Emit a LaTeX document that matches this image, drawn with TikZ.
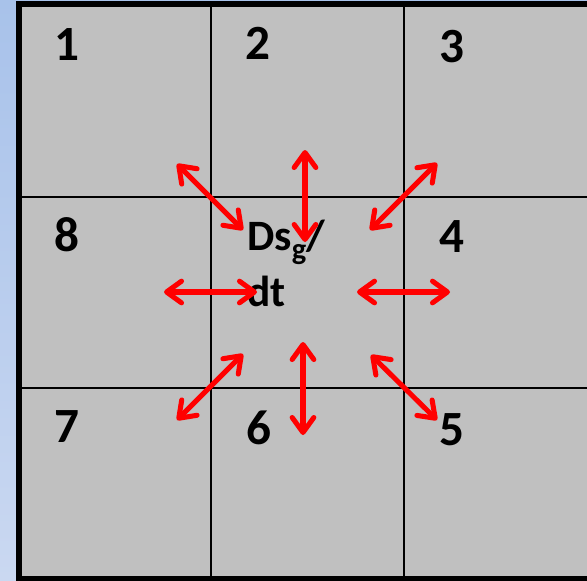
\documentclass[tikz,border=0pt]{standalone}
\usepackage{fontspec}
\setmainfont{Carlito}
\usetikzlibrary{arrows.meta}
\definecolor{slideblue}{RGB}{168,194,234}
\definecolor{slidepale}{RGB}{202,216,241}
\definecolor{cellgray}{RGB}{192,192,192}
\definecolor{fluxred}{RGB}{255,0,0}

\begin{document}
\begin{tikzpicture}[x=0.03cm, y=-0.03cm,
    celllabel/.style={font=\fontsize{42}{48}\selectfont\bfseries, inner sep=0pt},
    ratelabel/.style={font=\fontsize{37}{44}\selectfont\bfseries, inner sep=0pt, anchor=base west},
    flux/.style={draw=fluxred, line width=4.3pt, line cap=round,
                 {Straight Barb[round, length=4.5mm, width=6.5mm]}-{Straight Barb[round, length=4.5mm, width=6.5mm]}}
  ]
    \useasboundingbox (0,0) rectangle (587,580);
    \clip (0,0) rectangle (587,580);

    % Slide background
    \shade[top color=slideblue, bottom color=slidepale] (0,0) rectangle (587,580);

    % Grid of cells
    \fill[cellgray] (19,4) rectangle (597,578.5);
    \draw[line width=1.2pt] (211,4) -- (211,578) (404,4) -- (404,578)
                            (19,197) -- (597,197) (19,388) -- (597,388);
    \draw[line width=4.3pt] (19,4) rectangle (597,578.5);

    % Cell numbers
    \node[celllabel] (c1) at (66.7,44.3)  {1};
    \node[celllabel] (c2) at (258.3,43.8) {2};
    \node[celllabel] (c3) at (451.7,46.2) {3};
    \node[celllabel] (c8) at (67,235)     {8};
    \node[celllabel] (c4) at (451.7,237)  {4};
    \node[celllabel] (c7) at (66.5,427)   {7};
    \node[celllabel] (c6) at (258.7,427.5) {6};
    \node[celllabel] (c5) at (451.7,430)  {5};

    % Centre cell
    \node[ratelabel] (rate) at (247,250)
      {Ds\raisebox{-8.5pt}{\fontsize{26}{30}\selectfont g}/};
    \node[ratelabel] (dt) at (247,306.5) {dt};

    % Arrow ends
    \coordinate (n-out)  at (305,150);
    \coordinate (n-in)   at (305,242);
    \coordinate (s-in)   at (303,342);
    \coordinate (s-out)  at (303,435);
    \coordinate (w-out)  at (164,292);
    \coordinate (w-in)   at (257,292);
    \coordinate (e-in)   at (357,292);
    \coordinate (e-out)  at (450,292);
    \coordinate (nw-out) at (177,164);
    \coordinate (nw-in)  at (243,230);
    \coordinate (ne-out) at (437,163);
    \coordinate (ne-in)  at (370,230);
    \coordinate (sw-in)  at (243,354);
    \coordinate (sw-out) at (177,420);
    \coordinate (se-in)  at (371,355);
    \coordinate (se-out) at (437,420);

    % Exchange arrows
    \draw[flux] (n-out) -- (n-in);
    \draw[flux] (s-in) -- (s-out);
    \draw[flux] (w-out) -- (w-in);
    \draw[flux] (e-in) -- (e-out);
    \draw[flux] (nw-out) -- (nw-in);
    \draw[flux] (ne-out) -- (ne-in);
    \draw[flux] (sw-in) -- (sw-out);
    \draw[flux] (se-in) -- (se-out);
\end{tikzpicture}
\end{document}
